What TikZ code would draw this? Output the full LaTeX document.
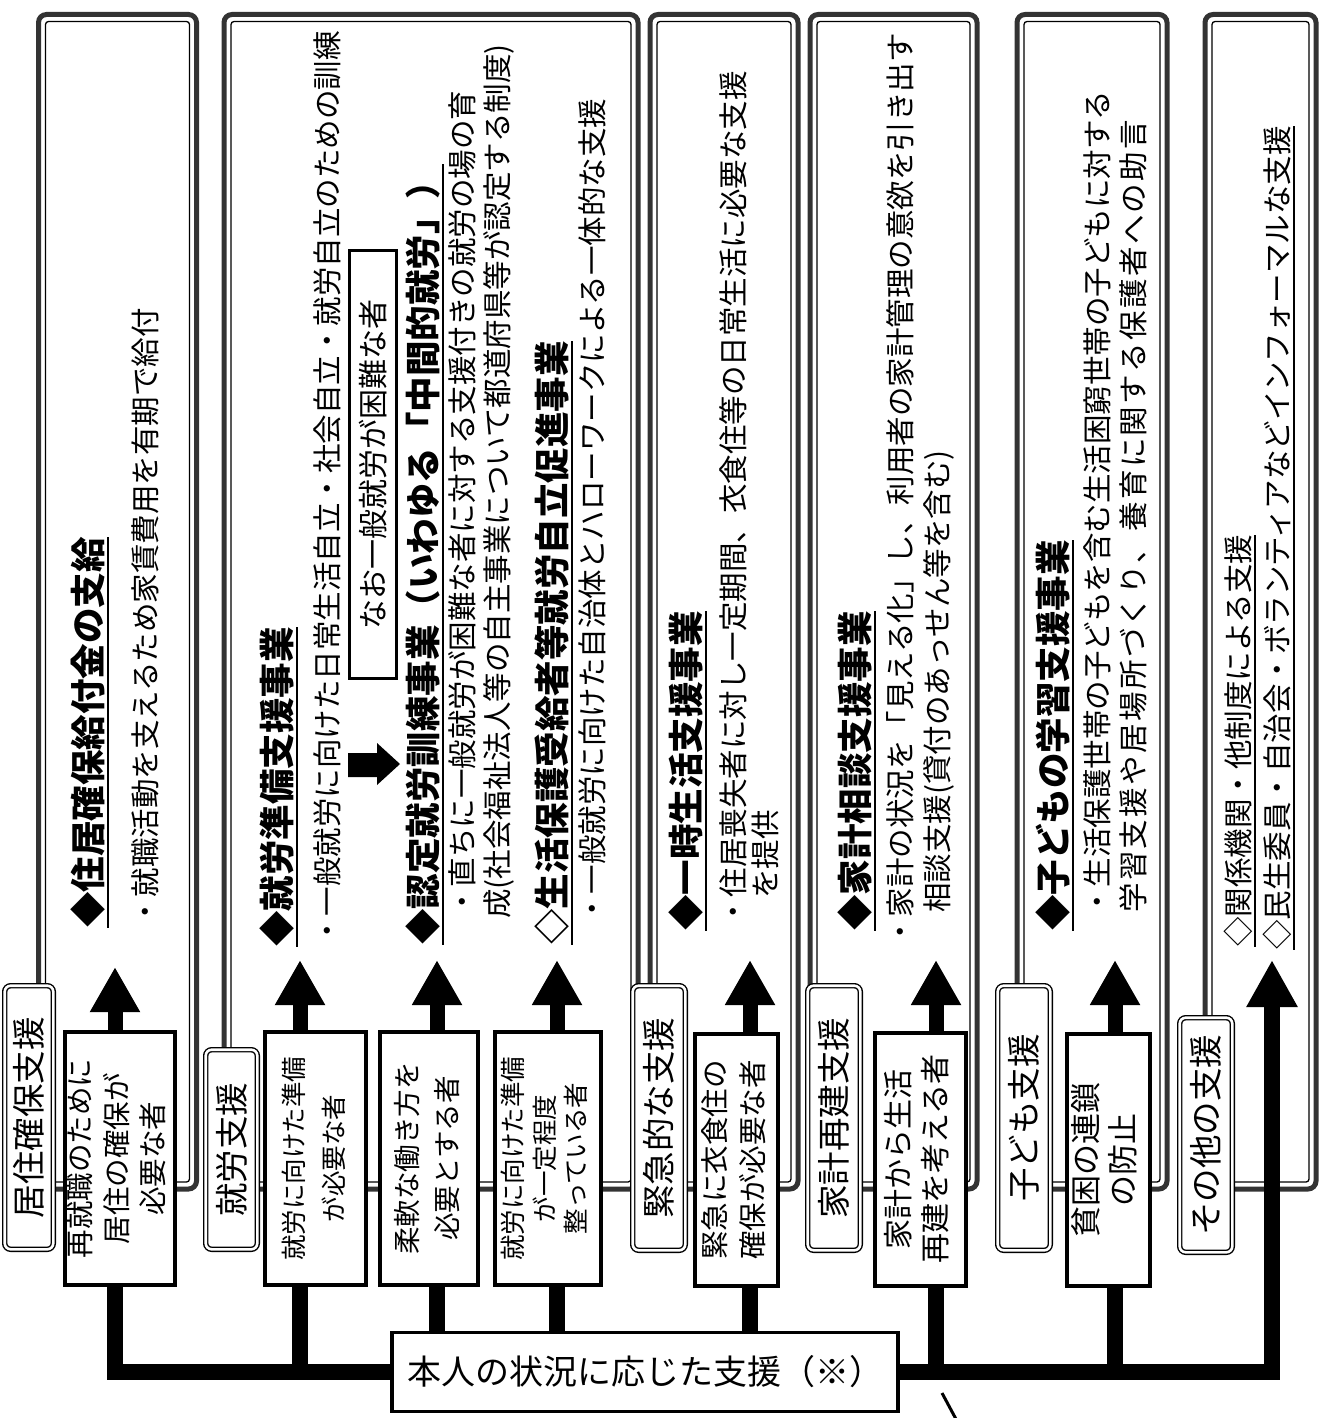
\documentclass[tikz,border=0pt]{standalone}
\usepackage{fontspec}
\setmainfont{Noto Sans CJK JP}
\newfontfamily\lsfont{Noto Sans CJK JP}[LetterSpace=8]
\usetikzlibrary{arrows.meta}
\newcommand{\vtx}[1]{\rotatebox{90}{\begin{tabular}{@{}c@{}}#1\end{tabular}}}
\newcommand{\uln}[1]{\leavevmode\vtop{\hbox{#1}\kern1.5pt\hrule height 1.8pt}}
\begin{document}
\begin{tikzpicture}[x=1pt,y=-1pt,
  panelout/.style={draw=black!80, line width=5pt, rounded corners=8pt},
  panelin/.style={draw=black, line width=1.3pt, rounded corners=3pt},
  pbox/.style={draw, line width=4pt, fill=white, inner sep=0pt},
  tab/.style={draw, line width=1.4pt, double=white, double distance=2.6pt, rounded corners=6pt, fill=white, inner sep=0pt, font=\fontsize{33.5}{36}\selectfont},
  hd/.style={rotate=90, anchor=base west, inner sep=0pt, font=\fontsize{35.5}{40}\selectfont\bfseries},
  bd/.style={rotate=90, anchor=base west, inner sep=0pt, font=\fontsize{29.5}{34}\selectfont},
  bus/.style={line width=16pt, line join=miter},
  arr/.style={line width=15pt, -{Triangle[length=45pt,width=47pt]}},
]
\useasboundingbox (0,0) rectangle (1318,1418);
\fill[white] (0,0) rectangle (1318,1418);

% panels
\foreach \l/\r in {38.5/196.5, 224/638, 650/798, 810/977, 1017/1167, 1205/1316} {
  \draw[panelout] (\l,14.5) rectangle (\r,1189);
  \draw[panelin] (\l+7,21.5) rectangle (\r-7,1182);
}

% panel 1 text
\node[hd] (h1) at (101.5,928) {\uln{◆住居確保給付金の支給}};
\node[bd] (t1) at (156.2,927) {・就職活動を支えるため家賃費用を有期で給付};

% panel 2 text
\node[hd] (h2) at (290.5,947) {\uln{◆就労準備支援事業}};
\node[bd] (t2) at (338.2,946) {・一般就労に向けた日常生活自立・社会自立・就労自立のための訓練};
\node[draw, line width=3pt, fill=white, inner sep=0pt, minimum width=47pt, minimum height=428pt, font=\fontsize{30}{34}\selectfont] (nao) at (373,464.5) {\rotatebox{90}{なお一般就労が困難な者}};
\fill (348,753) -- (377,753) -- (377,743) -- (400,764) -- (377,785) -- (377,777) -- (348,777) -- cycle;
\node[hd] (h3) at (436.5,945) {\uln{◆認定就労訓練事業（いわゆる「中間的就労」）}};
\node[bd] (t3) at (473.2,917) {・直ちに一般就労が困難な者に対する支援付きの就労の場の育};
\node[bd] (t4) at (508.2,919) {成(社会福祉法人等の自主事業について都道府県等が認定する制度)};
\node[hd] (h4) at (565.5,945) {\uln{◇生活保護受給者等就労自立促進事業}};
\node[bd] (t5) at (603.2,924) {・一般就労に向けた自治体とハローワークによる一体的な支援};

% panel 3 text
\node[hd] (h5) at (699.5,931) {\uln{◆一時生活支援事業}};
\node[bd] (t6) at (744.2,927) {・住居喪失者に対し一定期間、衣食住等の日常生活に必要な支援};
\node[bd] (t7) at (776.2,899) {を提供};

% panel 4 text
\node[hd] (h6) at (868.5,931) {\uln{◆家計相談支援事業}};
\node[bd] (t8) at (911.2,947) {・家計の状況を「見える化」し、利用者の家計管理の意欲を引き出す};
\node[bd] (t9) at (948.2,913) {相談支援(貸付のあっせん等を含む)};

% panel 5 text
\node[hd] (h7) at (1066.5,931) {\uln{◆子どもの学習支援事業}};
\node[bd] (t10) at (1108.2,917) {・生活保護世帯の子どもを含む生活困窮世帯の子どもに対する};
\node[bd] (t11) at (1144.2,913) {\lsfont 学習支援や居場所づくり、養育に関する保護者への助言};

% panel 6 text
\node[bd] (t12) at (1249.2,947) {\uln{◇関係機関・他制度による支援}};
\node[bd] (t13) at (1288.2,950) {\uln{◇民生委員・自治会・ボランティアなどインフォーマルな支援}};

% tabs
\node[tab, minimum width=48.6pt, minimum height=263.6pt] (T1) at (29,1117.5) {\rotatebox{90}{居住確保支援}};
\node[tab, minimum width=51.6pt, minimum height=199.6pt] (T2) at (231.5,1149.5) {\rotatebox{90}{就労支援}};
\node[tab, minimum width=52.6pt, minimum height=264.6pt] (T3) at (659,1118) {\rotatebox{90}{緊急的な支援}};
\node[tab, minimum width=52.6pt, minimum height=264.6pt] (T4) at (834,1118) {\rotatebox{90}{家計再建支援}};
\node[tab, minimum width=52.6pt, minimum height=264.6pt] (T5) at (1024,1118) {\rotatebox{90}{子ども支援}};
\node[tab, minimum width=52.6pt, minimum height=234.6pt] (T6) at (1206,1135) {\rotatebox{90}{その他の支援}};

% person boxes
\node[pbox, minimum width=106pt, minimum height=253pt, font=\fontsize{28.5}{36.5}\selectfont] (B1) at (120,1158.5) {\vtx{再就職のために\\居住の確保が\\必要な者}};
\node[pbox, minimum width=101pt, minimum height=253pt, font=\fontsize{25.5}{40}\selectfont] (B2) at (315.5,1158.5) {\vtx{就労に向けた準備\\が必要な者}};
\node[pbox, minimum width=98pt, minimum height=253pt, font=\fontsize{27.5}{40}\selectfont] (B3) at (429,1158.5) {\vtx{柔軟な働き方を\\必要とする者}};
\node[pbox, minimum width=106pt, minimum height=253pt, font=\fontsize{25.5}{31.5}\selectfont] (B4) at (548,1158.5) {\vtx{就労に向けた準備\\が一定程度\\整っている者}};
\node[pbox, minimum width=83pt, minimum height=252pt, font=\fontsize{28.5}{38}\selectfont] (B5) at (736.5,1160) {\vtx{緊急に衣食住の\\確保が必要な者}};
\node[pbox, minimum width=91pt, minimum height=253pt, font=\fontsize{30}{37}\selectfont] (B6) at (920.5,1159) {\vtx{家計から生活\\再建を考える者}};
\node[pbox, minimum width=83pt, minimum height=252pt, font=\fontsize{31}{37}\selectfont] (B7) at (1108.5,1160) {\vtx{貧困の連鎖\\の防止}};

% central box
\node[draw, line width=3.5pt, fill=white, inner sep=0pt, minimum width=506pt, minimum height=79pt, font=\fontsize{34}{36}\selectfont] (C) at (645,1372) {本人の状況に応じた支援（※）};

% arrow targets
\coordinate (a1) at (115,967);
\coordinate (a2) at (300,960);
\coordinate (a3) at (437,960);
\coordinate (a4) at (557,960);
\coordinate (a5) at (750,960);
\coordinate (a6) at (936,960);
\coordinate (a7) at (1115,960);
\coordinate (a8) at (1272,960);

% arrows up
\draw[arr] (B1.north -| a1) -- (a1);
\draw[arr] (B2.north -| a2) -- (a2);
\draw[arr] (B3.north -| a3) -- (a3);
\draw[arr] (B4.north -| a4) -- (a4);
\draw[arr] (B5.north -| a5) -- (a5);
\draw[arr] (B6.north -| a6) -- (a6);
\draw[arr] (B7.north -| a7) -- (a7);

% bus
\draw[bus] (B1.south -| a1) |- (C.west);
\draw[bus] (B2.south -| a2) -- (a2 |- C.west);
\draw[bus] (B3.south -| a3) -- (a3 |- C.north);
\draw[bus] (B4.south -| a4) -- (a4 |- C.north);
\draw[bus] (B5.south -| a5) -- (a5 |- C.north);
\draw[bus] (B6.south -| a6) -- (a6 |- C.east);
\draw[bus] (B7.south -| a7) -- (a7 |- C.east);
\draw[bus, -{Triangle[length=47pt,width=48pt]}] (C.east) -| (a8);

% callout mark
\coordinate (m1) at (942,1393);
\coordinate (m2) at (957,1421);
\draw[line width=3pt] (m1) -- (m2);
\end{tikzpicture}
\end{document}
